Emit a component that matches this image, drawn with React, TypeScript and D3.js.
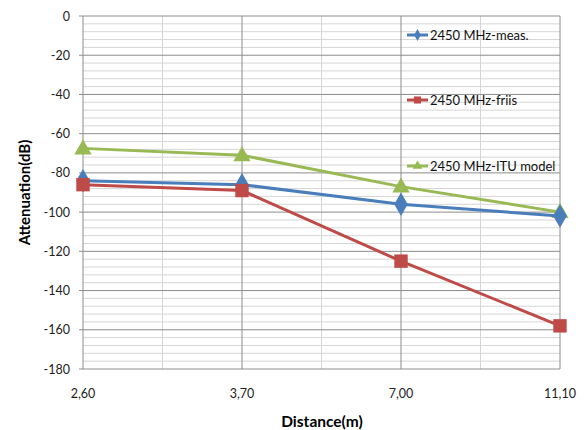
import { useEffect, useRef } from "react"
import * as d3 from "d3"

// datos
const distancias = ["2,60", "3,70", "7,00", "11,10"]
const medido = [-84, -86, -96, -102]
const friis = [-86, -89, -125, -158]
const itu = [-67.5, -71, -87, -100]
const ticksY = [0, -20, -40, -60, -80, -100, -120, -140, -160, -180]

const series = [
  { nombre: "2450 MHz-meas.", valores: medido, color: "#4a7ebb", marca: "diamond" },
  { nombre: "2450 MHz-friis", valores: friis, color: "#be4b48", marca: "square" },
  { nombre: "2450 MHz-ITU model", valores: itu, color: "#98b954", marca: "triangle" },
]

export default function App() {
  const svgRef = useRef<SVGSVGElement>(null)

  useEffect(() => {
    if (!svgRef.current) return
    const svg = d3.select(svgRef.current)
    svg.selectAll("*").remove()

    const left = 83
    const right = 560
    const top = 16
    const bottom = 369
    const font = "Lato, 'Open Sans', sans-serif"

    const x = d3.scalePoint<string>().domain(distancias).range([left, right])
    const y = d3.scaleLinear().domain([-180, 0]).range([bottom, top])

    const g = svg.append("g")

    // rejilla menor horizontal
    g.selectAll("line.hmin")
      .data(d3.range(-180, 1, 4).filter((v) => v % 20 !== 0))
      .join("line")
      .attr("x1", left)
      .attr("x2", right)
      .attr("y1", (d) => y(d))
      .attr("y2", (d) => y(d))
      .attr("stroke", "#d6d6d6")
      .attr("stroke-width", 1)

    // rejilla menor vertical (entre categorías)
    const paso = x.step()
    g.selectAll("line.vmin")
      .data(distancias.slice(0, -1))
      .join("line")
      .attr("x1", (d) => (x(d) as number) + paso / 2)
      .attr("x2", (d) => (x(d) as number) + paso / 2)
      .attr("y1", top)
      .attr("y2", bottom)
      .attr("stroke", "#d6d6d6")
      .attr("stroke-width", 1)

    // rejilla mayor
    g.selectAll("line.hmaj")
      .data(ticksY)
      .join("line")
      .attr("x1", left - 4)
      .attr("x2", right)
      .attr("y1", (d) => y(d))
      .attr("y2", (d) => y(d))
      .attr("stroke", "#8c8c8c")
      .attr("stroke-width", 1)

    g.selectAll("line.vmaj")
      .data(distancias)
      .join("line")
      .attr("x1", (d) => x(d) as number)
      .attr("x2", (d) => x(d) as number)
      .attr("y1", top)
      .attr("y2", bottom)
      .attr("stroke", "#8c8c8c")
      .attr("stroke-width", 1)

    // etiquetas eje Y
    g.selectAll("text.ty")
      .data(ticksY)
      .join("text")
      .attr("x", 70)
      .attr("y", (d) => y(d))
      .attr("text-anchor", "end")
      .attr("dominant-baseline", "central")
      .style("font-family", font)
      .style("font-size", "12.5px")
      .attr("fill", "#222")
      .text((d) => d)

    // etiquetas eje X
    g.selectAll("text.tx")
      .data(distancias)
      .join("text")
      .attr("x", (d) => x(d) as number)
      .attr("y", 393)
      .attr("text-anchor", "middle")
      .attr("dominant-baseline", "central")
      .style("font-family", font)
      .style("font-size", "12.5px")
      .attr("fill", "#222")
      .text((d) => d)

    // títulos de ejes
    g.append("text")
      .attr("x", 322)
      .attr("y", 421)
      .attr("text-anchor", "middle")
      .attr("dominant-baseline", "central")
      .style("font-family", font)
      .style("font-size", "15.5px")
      .style("font-weight", "bold")
      .text("Distance(m)")

    g.append("text")
      .attr("transform", `translate(24,${(top + bottom) / 2}) rotate(-90)`)
      .attr("text-anchor", "middle")
      .attr("dominant-baseline", "central")
      .style("font-family", font)
      .style("font-size", "15px")
      .style("font-weight", "bold")
      .text("Attenuation(dB)")

    const simbolo = (marca: string, tam: number) => {
      const t =
        marca === "diamond" ? d3.symbolDiamond : marca === "square" ? d3.symbolSquare : d3.symbolTriangle
      return d3.symbol().type(t).size(tam)()
    }

    const linea = d3
      .line<number>()
      .x((_, i) => x(distancias[i]) as number)
      .y((d) => y(d))

    // dibujar series (verde primero para que quede debajo)
    ;[series[2], series[0], series[1]].forEach((s) => {
      g.append("path")
        .datum(s.valores)
        .attr("d", linea)
        .attr("fill", "none")
        .attr("stroke", s.color)
        .attr("stroke-width", 3)

      g.selectAll(null)
        .data(s.valores)
        .join("path")
        .attr("transform", (d, i) => `translate(${x(distancias[i])},${y(d) + (s.marca === "triangle" ? 1 : 0)})`)
        .attr("d", simbolo(s.marca, s.marca === "square" ? 180 : s.marca === "diamond" ? 160 : 130))
        .attr("fill", s.color)
    })

    // leyenda
    const legendY = [35, 100, 166]
    series.forEach((s, i) => {
      const row = g.append("g").attr("transform", `translate(407,${legendY[i]})`)
      row.append("line").attr("x1", 0).attr("x2", 21).attr("stroke", s.color).attr("stroke-width", 3)
      row
        .append("path")
        .attr("transform", "translate(10.5,0)")
        .attr("d", simbolo(s.marca, s.marca === "square" ? 50 : 40))
        .attr("fill", s.color)
      row
        .append("text")
        .attr("x", 23)
        .attr("y", 0)
        .attr("dominant-baseline", "central")
        .style("font-family", font)
        .style("font-size", "13px")
        .attr("fill", "#111")
        .text(s.nombre)
    })
  }, [])

  return (
    <svg
      ref={svgRef}
      width={587}
      height={430}
      style={{ position: "absolute", left: 0, top: 0, background: "#fff" }}
    />
  )
}
